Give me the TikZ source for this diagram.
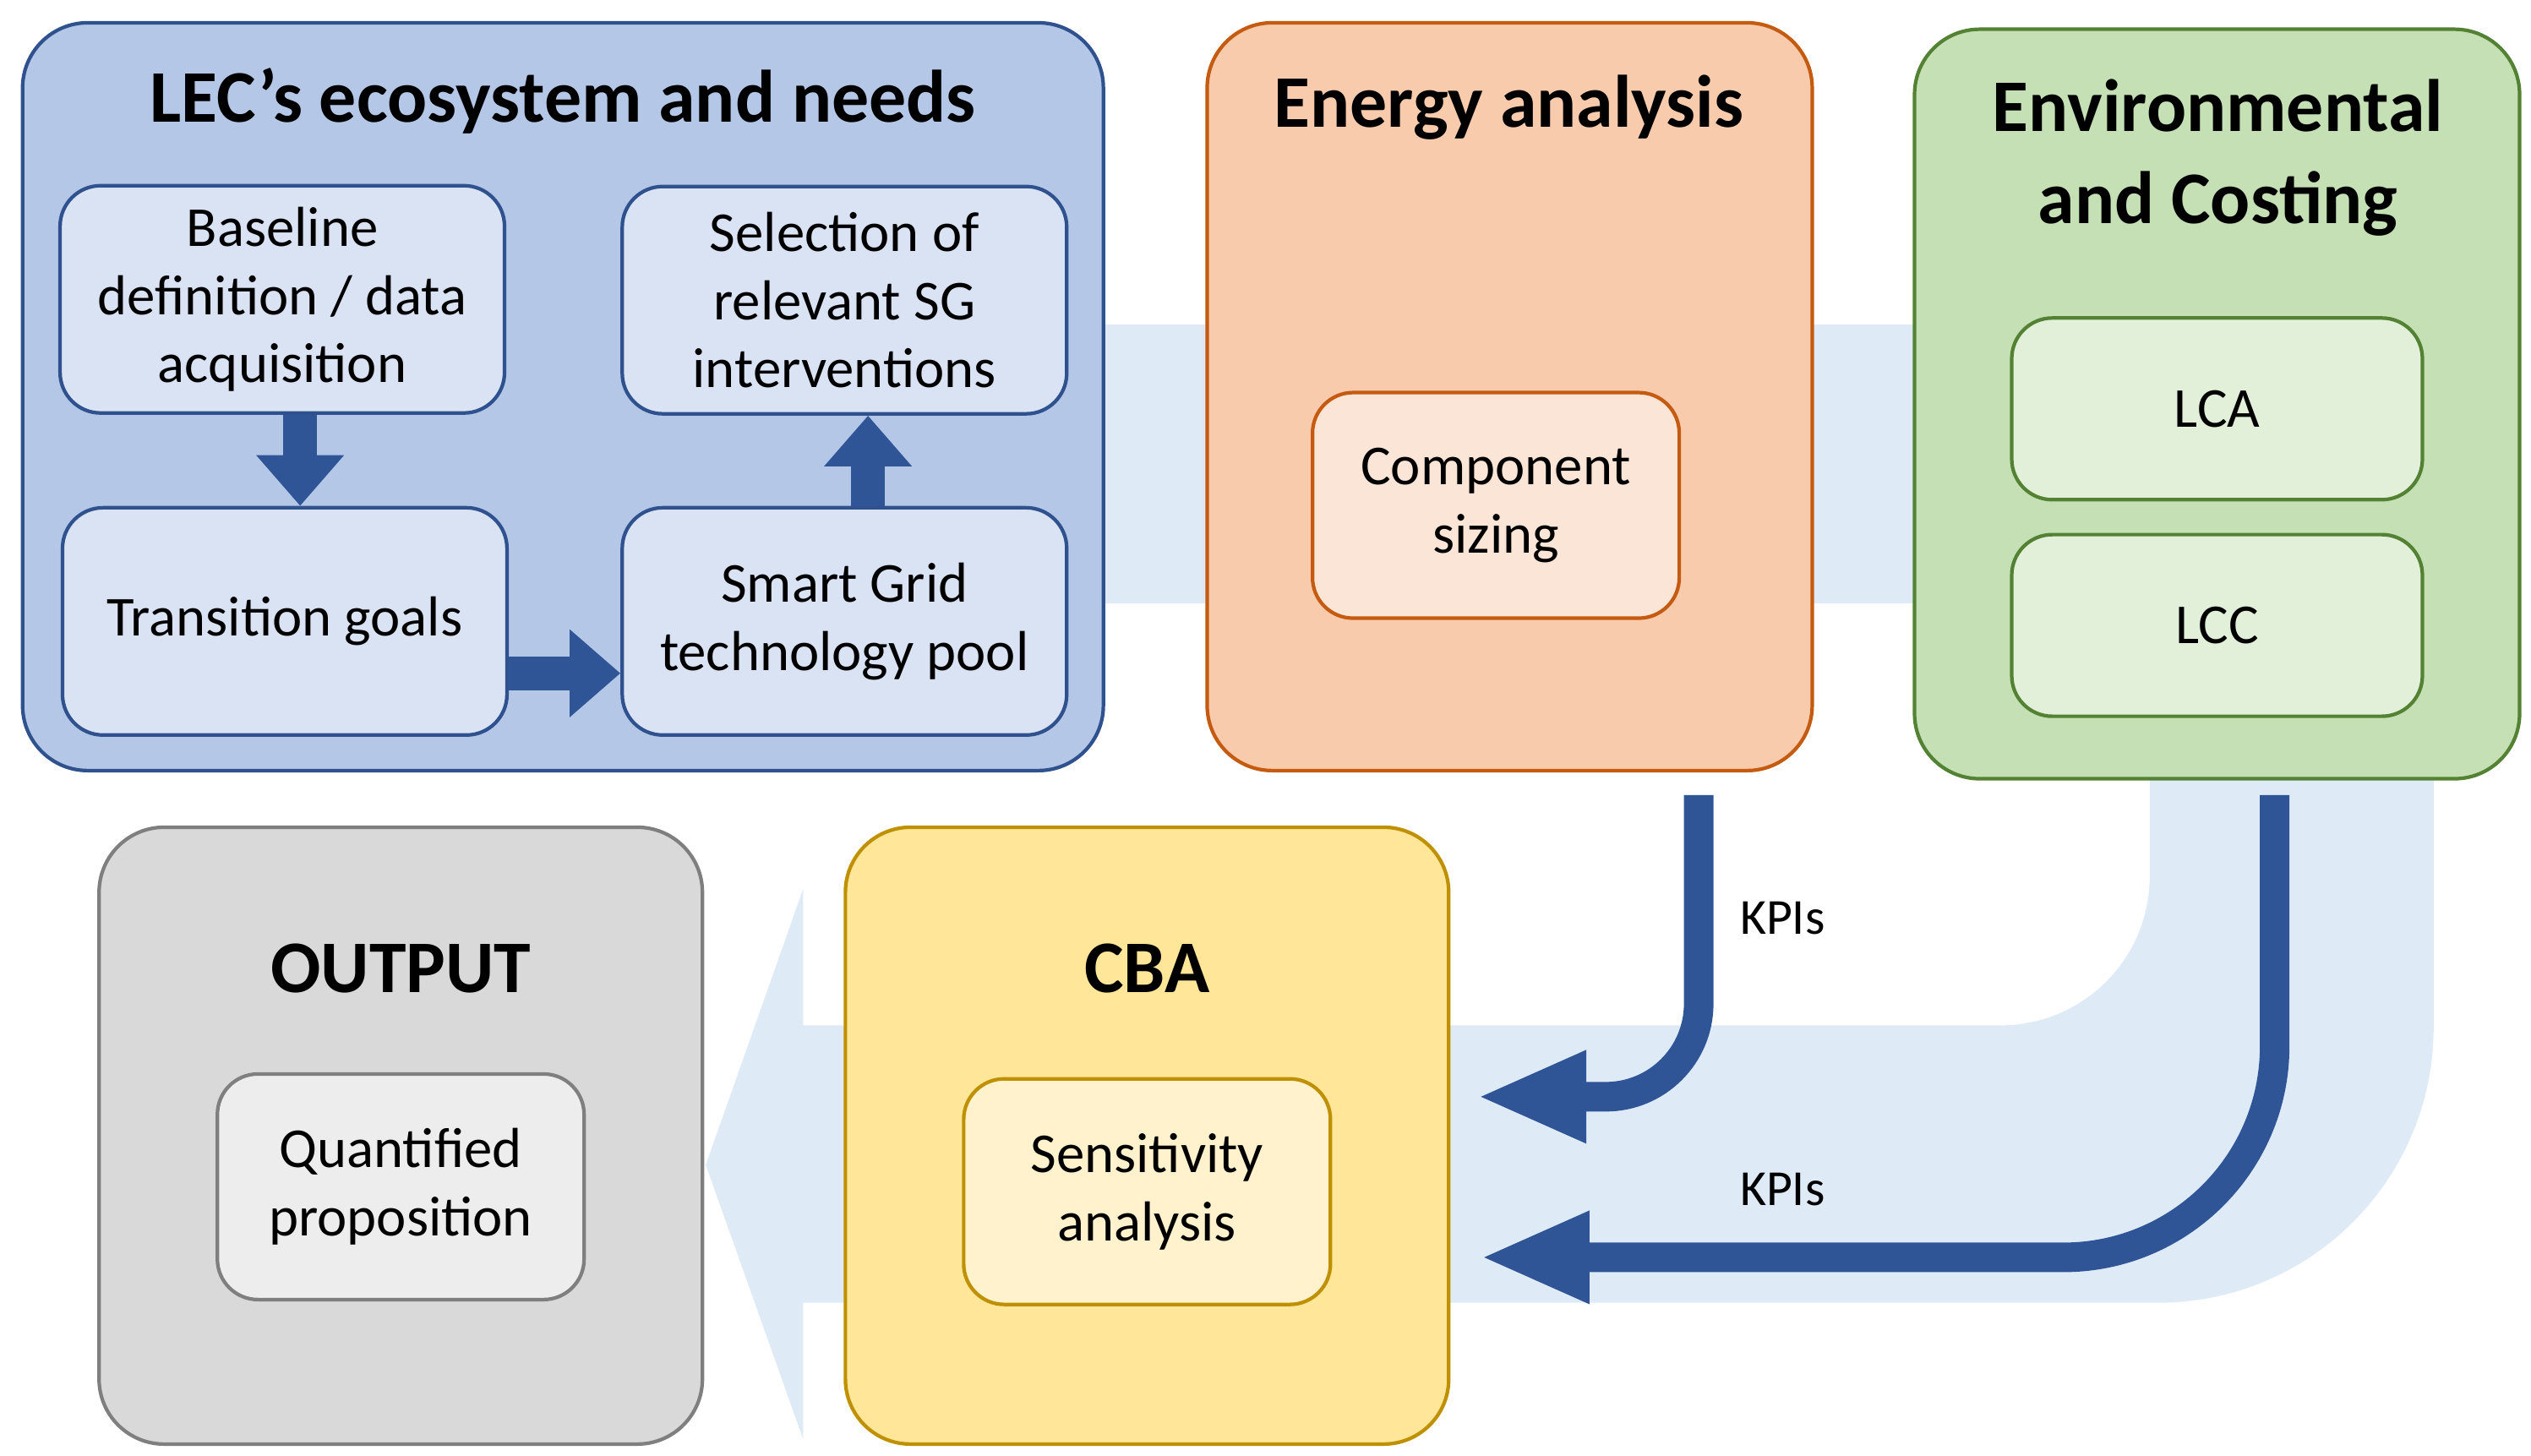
\documentclass[tikz,border=0pt]{standalone}
\usepackage{fontspec}
\setmainfont{Carlito}
\usetikzlibrary{arrows.meta}
\definecolor{lecfill}{HTML}{B4C7E7}
\definecolor{lecin}{HTML}{DAE3F3}
\definecolor{lecline}{HTML}{2F528F}
\definecolor{enfill}{HTML}{F8CBAD}
\definecolor{enin}{HTML}{FBE5D6}
\definecolor{enline}{HTML}{C55A11}
\definecolor{envfill}{HTML}{C5E0B4}
\definecolor{envin}{HTML}{E2F0D9}
\definecolor{envline}{HTML}{548235}
\definecolor{cbafill}{HTML}{FFE699}
\definecolor{cbain}{HTML}{FFF2CC}
\definecolor{cbaline}{HTML}{BF9000}
\definecolor{outfill}{HTML}{D9D9D9}
\definecolor{outin}{HTML}{EDEDED}
\definecolor{outline}{HTML}{7F7F7F}
\definecolor{band}{HTML}{DEEBF7}
\definecolor{darrow}{HTML}{2F5597}
\tikzset{
	bigbox/.style={draw, line width=1.2pt, rounded corners=7.7mm, inner sep=0pt},
	inbox/.style={draw, line width=1.2pt, rounded corners=4.8mm, align=center, inner sep=0pt,
		font=\fontsize{19}{23}\selectfont},
	title/.style={font=\fontsize{25}{31}\selectfont\bfseries, align=center},
	flow/.style={darrow, line width=4mm, -{Triangle[length=6mm, width=10mm]}},
	kpiarrow/.style={darrow, line width=3.5mm, -{Triangle[length=13mm, width=10mm]}},
	kpilabel/.style={font=\fontsize{17}{20}\selectfont, anchor=west}
}
\begin{document}
\begin{tikzpicture}[x=0.192mm, y=-0.192mm]
	\useasboundingbox (0,0) rectangle (1560,897);

	%––––– bands –––––
	\fill[band] (670,200) rectangle (1190,372);
	\fill[band] (1325,470) -- (1325,540) .. controls (1325,591) and (1284,632) .. (1233,632)
		-- (495,632) -- (495,548) -- (435,718) -- (495,887) -- (495,803) -- (1330,803)
		.. controls (1424,803) and (1500,727) .. (1500,633) -- (1500,470) -- cycle;

	%––––– LEC's ecosystem –––––
	\node[bigbox, fill=lecfill, draw=lecline, minimum width=127.9mm, minimum height=88.5mm] (lec) at (347,244.5) {};
	\node[title] (lect) at (347,62) {LEC’s ecosystem and needs};
	\node[inbox, fill=lecin, draw=lecline, minimum width=52.6mm, minimum height=26.9mm] (base) at (174,184.5) {Baseline\\definition / data\\acquisition};
	\node[inbox, fill=lecin, draw=lecline, minimum width=52.6mm, minimum height=26.9mm] (sel) at (520.5,185) {Selection of\\relevant SG\\interventions};
	\node[inbox, fill=lecin, draw=lecline, minimum width=52.6mm, minimum height=26.9mm] (trans) at (175.5,383) {Transition goals};
	\node[inbox, fill=lecin, draw=lecline, minimum width=52.6mm, minimum height=26.9mm] (pool) at (520.5,383) {Smart Grid\\technology pool};
	\draw[flow] (base.south -| 185,0) -- (trans.north -| 185,0);
	\draw[flow] (pool.north -| 535,0) -- (sel.south -| 535,0);
	\draw[flow] (trans.east |- 0,415) -- (pool.west |- 0,415);

	%––––– Energy analysis –––––
	\node[bigbox, fill=enfill, draw=enline, minimum width=71.6mm, minimum height=88.5mm] (energy) at (930.5,244.5) {};
	\node[title] (energyt) at (930,66) {Energy analysis};
	\node[inbox, fill=enin, draw=enline, minimum width=43.4mm, minimum height=26.7mm] (comp) at (922,311.5) {Component\\sizing};

	%––––– Environmental and Costing –––––
	\node[bigbox, fill=envfill, draw=envline, minimum width=71.6mm, minimum height=88.7mm] (env) at (1366.5,249) {};
	\node[title] (envt) at (1367,97) {Environmental\\and Costing};
	\node[inbox, fill=envin, draw=envline, minimum width=48.6mm, minimum height=21.5mm] (lca) at (1366.5,252) {LCA};
	\node[inbox, fill=envin, draw=envline, minimum width=48.6mm, minimum height=21.5mm] (lcc) at (1366.5,385.5) {LCC};

	%––––– CBA –––––
	\node[bigbox, fill=cbafill, draw=cbaline, minimum width=71.4mm, minimum height=73mm] (cba) at (707,700) {};
	\node[title] (cbat) at (707,597) {CBA};
	\node[inbox, fill=cbain, draw=cbaline, minimum width=43.4mm, minimum height=26.7mm] (sens) at (707,734.5) {Sensitivity\\analysis};

	%––––– OUTPUT –––––
	\node[bigbox, fill=outfill, draw=outline, minimum width=71.4mm, minimum height=73mm] (out) at (247,700) {};
	\node[title] (outt) at (247,597) {OUTPUT};
	\node[inbox, fill=outin, draw=outline, minimum width=43.4mm, minimum height=26.7mm] (quant) at (247,731.5) {Quantified\\proposition};

	%––––– KPI arrows –––––
	\coordinate (e1) at (1047,490);
	\coordinate (k1) at (910,676);
	\draw[kpiarrow, rounded corners=11mm] (e1) |- (k1);
	\node[kpilabel] (kpi1) at (1066,566) {KPIs};

	\coordinate (f1) at (1402,490);
	\coordinate (k2) at (912,775);
	\draw[kpiarrow, rounded corners=25mm] (f1) |- (k2);
	\node[kpilabel] (kpi2) at (1066,733) {KPIs};
\end{tikzpicture}
\end{document}
